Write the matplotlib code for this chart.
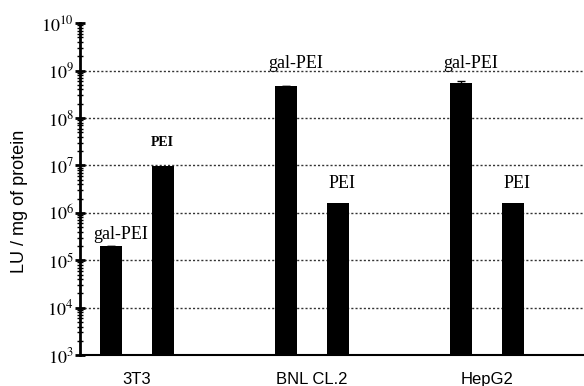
import matplotlib
matplotlib.use("Agg")
import matplotlib.pyplot as plt
from matplotlib.ticker import LogLocator, NullFormatter
import numpy as np

cells = ["3T3", "BNL CL.2", "HepG2"]
gal_pei = [2.0e5, 4.7e8, 5.5e8]
gal_err = [0, 0, 0.5e8]
pei = [9.5e6, 1.6e6, 1.6e6]
gal_names = ["gal-PEI", "gal-PEI", "gal-PEI"]
pei_names = ["PEI", "PEI", "PEI"]

plt.rcParams['mathtext.fontset'] = 'stix'

fig = plt.figure(figsize=(5.84, 3.86), dpi=100)
ax = fig.add_axes([0.137, 0.080, 0.863, 0.860])

x = np.arange(len(cells))
off = 0.147
w = 0.126

ax.bar(x - off, gal_pei, w, color='black', bottom=1e3, yerr=gal_err,
       error_kw=dict(ecolor='black', capsize=3, lw=1))
ax.bar(x + off, pei, w, color='black', bottom=1e3)

ax.set_yscale('log')
ax.set_ylim(1e3, 1e10)
ax.set_xlim(-0.326, 2.554)

serif = 'Liberation Serif'
for i in range(len(cells)):
    if i == 0:
        ax.annotate(gal_names[i], (x[i] - off, gal_pei[i] * 1.15), xytext=(6.5, 0),
                    textcoords='offset points', ha='center', va='bottom',
                    family=serif, fontsize=13)
        ax.annotate(pei_names[i], (x[i] + off, pei[i] * 2.3), xytext=(0, 0),
                    textcoords='offset points', ha='center', va='bottom',
                    family=serif, fontsize=10, weight='bold')
    else:
        ax.annotate(gal_names[i], (x[i] - off, 0.95e9), xytext=(6.5, 0),
                    textcoords='offset points', ha='center', va='bottom',
                    family=serif, fontsize=13)
        ax.annotate(pei_names[i], (x[i] + off, pei[i] * 1.75), xytext=(3, 0),
                    textcoords='offset points', ha='center', va='bottom',
                    family=serif, fontsize=13)

for d in range(4, 10):
    ax.axhline(10.0 ** d, color='#333333', ls=(0, (1.5, 1.5)), lw=1, zorder=0)

ax.set_xticks(x)
ax.set_xticklabels(cells, family='Liberation Sans', fontsize=12)
ax.tick_params(axis='x', length=0, pad=12)
ax.set_yticks([10.0 ** d for d in range(3, 11)])
ax.set_yticklabels([r'$10^{%d}$' % d for d in range(3, 11)], fontsize=13)
ax.yaxis.set_minor_locator(LogLocator(base=10, subs=np.arange(2, 10), numticks=100))
ax.yaxis.set_minor_formatter(NullFormatter())
ax.tick_params(axis='y', which='major', direction='inout', length=7, width=2, pad=1)
ax.tick_params(axis='y', which='minor', direction='inout', length=4, width=1)

ax.set_ylabel('LU / mg of protein', family='Liberation Sans', fontsize=13)
ax.yaxis.set_label_coords(-0.103, 0.464)

ax.spines['top'].set_visible(False)
ax.spines['right'].set_visible(False)
ax.spines['left'].set_linewidth(2)
ax.spines['bottom'].set_linewidth(1.5)

fig.savefig('out.png', dpi=100)
